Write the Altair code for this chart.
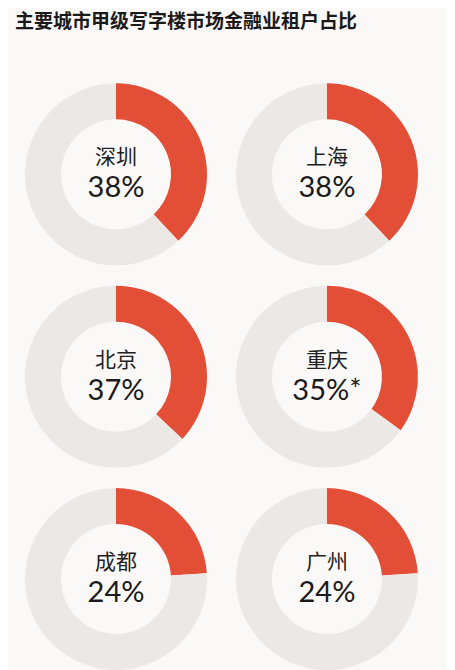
import math

import altair as alt
import pandas as pd

# 主要城市甲级写字楼市场金融业租户占比
cities = ["深圳", "上海", "北京", "重庆", "成都", "广州"]
shares = [38, 38, 37, 35, 24, 24]
notes = ["", "", "", "*", "", ""]

_RED = "#E24E36"
_GREY = "#ECE8E5"
_BG = "#FBF9F8"

rows = []
labels = []
for i, (city, share, note) in enumerate(zip(cities, shares, notes)):
    col, row = i % 2, i // 2
    rows.append({"city": city, "part": "金融业", "start": 0, "end": share, "col": col, "row": row})
    rows.append({"city": city, "part": "其他", "start": share, "end": 100, "col": col, "row": row})
    labels.append({"city": city, "pct": f"{share}%{note}", "col": col, "row": row})

df = pd.DataFrame(rows)
df_labels = pd.DataFrame(labels)

x_enc = alt.X("col:Q", scale=alt.Scale(domain=[-0.512, 1.569]), axis=None)
y_enc = alt.Y("row:Q", scale=alt.Scale(domain=[-0.585, 2.42], reverse=True), axis=None)

donuts = (
    alt.Chart(df)
    .mark_arc(innerRadius=55, outerRadius=91)
    .encode(
        x=x_enc,
        y=y_enc,
        theta=alt.Theta("start:Q", stack=False, scale=alt.Scale(domain=[0, 100], range=[0, 2 * math.pi])),
        theta2="end:Q",
        color=alt.Color(
            "part:N",
            scale=alt.Scale(domain=["金融业", "其他"], range=[_RED, _GREY]),
            legend=None,
        ),
    )
)

names = (
    alt.Chart(df_labels)
    .mark_text(font="Noto Sans CJK SC", fontSize=21, dy=-16, baseline="middle", color="#222222")
    .encode(x=x_enc, y=y_enc, text="city:N")
)

pcts = (
    alt.Chart(df_labels)
    .mark_text(font="Lato", fontSize=29, dy=14, baseline="middle", color="#1a1a1a")
    .encode(x=x_enc, y=y_enc, text="pct:N")
)

chart = (
    alt.layer(donuts, names, pcts)
    .properties(
        width=439,
        height=608,
        padding={"top": 5, "left": 0, "right": 0, "bottom": 0},
        background=_BG,
        title=alt.Title(
            "主要城市甲级写字楼市场金融业租户占比",
            anchor="start",
            font="Noto Sans CJK SC",
            fontSize=19,
            fontWeight="bold",
            color="#1a1a1a",
            offset=24,
            dx=7,
        ),
    )
    .configure_view(stroke=None)
)

chart.save("out.html", embed_options={"renderer": "svg", "actions": False})
